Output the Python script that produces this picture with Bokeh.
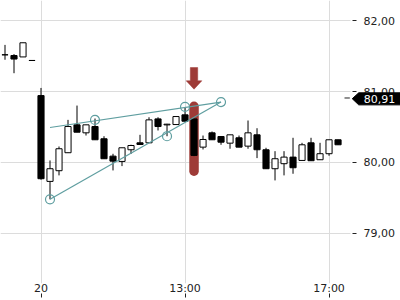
from bokeh.plotting import figure
from bokeh.models import Range1d, FixedTicker, Label, PolyAnnotation, ColumnDataSource
from bokeh.embed import file_html
from bokeh.resources import INLINE

# ---- data ----
idx   = [-4, -3, -2, -1, 0, 1, 2, 3, 4, 5, 6, 7, 8, 9, 10, 11, 12, 13, 14, 15, 16,
         17, 18, 19, 20, 21, 22, 23, 24, 25, 26, 27, 28, 29, 30, 31, 32, 33]
opens = [81.52, 81.51, 81.49, 81.44, 80.944, 79.732, 79.883, 80.137, 80.531, 80.418,
         80.507, 80.334, 80.089, 80.014, 80.179, 80.277, 80.277, 80.615, 80.530, 80.535,
         80.672, 80.615, 80.216, 80.418, 80.366, 80.272, 80.348, 80.230, 80.390, 80.179,
         79.911, 79.982, 80.075, 80.028, 80.277, 80.038, 80.123, 80.320]
highs = [81.66, 81.53, 81.69, 81.44, 81.052, 80.028, 80.225, 80.601, 80.803, 80.531,
         80.620, 80.370, 80.122, 80.207, 80.250, 80.390, 80.638, 80.638, 80.545, 80.648,
         80.775, 80.615, 80.380, 80.437, 80.366, 80.390, 80.380, 80.592, 80.483, 80.207,
         80.159, 80.159, 80.348, 80.277, 80.348, 80.277, 80.320, 80.320]
lows  = [81.45, 81.26, 81.49, 81.44, 79.756, 79.479, 79.817, 80.137, 80.427, 80.380,
         80.320, 80.052, 79.887, 79.948, 80.120, 80.253, 80.277, 80.451, 80.370, 80.535,
         80.582, 80.089, 80.183, 80.320, 80.249, 80.193, 80.216, 80.193, 80.061, 79.911,
         79.746, 79.817, 79.840, 80.028, 80.024, 80.038, 80.094, 80.249]
closes = [81.52, 81.46, 81.69, 81.44, 79.770, 79.911, 80.193, 80.507, 80.427, 80.531,
          80.320, 80.052, 80.018, 80.207, 80.239, 80.253, 80.601, 80.507, 80.540, 80.648,
          80.582, 80.099, 80.324, 80.320, 80.286, 80.390, 80.216, 80.418, 80.179, 79.911,
          80.052, 80.075, 79.925, 80.249, 80.024, 80.123, 80.320, 80.249]

x_ticks = [0, 16, 32]
x_tick_labels = ["20", "13:00", "17:00"]
y_ticks = [79, 80, 81, 82]
y_tick_labels = ["79,00", "80,00", "81,00", "82,00"]

line_a_x = [1, 20]
line_a_y = [80.493, 80.853]
line_b_x = [1, 20]
line_b_y = [79.479, 80.853]
circle_x = [1, 6, 14, 16, 20]
circle_y = [79.479, 80.600, 80.370, 80.785, 80.853]

signal_index = 17
signal_top = 80.793
signal_bottom = 79.877
arrow_top = 81.340
arrow_neck = 81.153
arrow_tip = 81.034

last_price = 80.91
last_price_text = "80,91"

# ---- styling ----
TEAL = "#5f9ea0"
RED = "#9e3b37"
TEXT = "#222222"
GRID = "#dcdcdc"
FONT = "DejaVu Sans"
PLOT_RIGHT = 34.39   # data x where the chart area ends (axis column to the right)

p = figure(width=400, height=300, output_backend="svg", toolbar_location=None,
           x_range=Range1d(-4.5, 39.94), y_range=Range1d(78.290, 82.287),
           y_axis_location="right", min_border_left=0, min_border_top=0,
           min_border_right=0, min_border_bottom=17)
p.outline_line_color = None
p.background_fill_color = "white"
p.border_fill_color = "white"

# axes
p.xaxis.ticker = FixedTicker(ticks=x_ticks)
p.xaxis.major_label_overrides = {t: l for t, l in zip(x_ticks, x_tick_labels)}
p.yaxis.ticker = FixedTicker(ticks=y_ticks)
p.yaxis.major_label_overrides = {t: l for t, l in zip(y_ticks, y_tick_labels)}
for ax in (p.xaxis, p.yaxis):
    ax.axis_line_color = None
    ax.minor_tick_line_color = None
    ax.major_tick_line_color = TEXT
    ax.major_label_text_font = FONT
    ax.major_label_text_font_size = "11px"
    ax.major_label_text_color = TEXT
p.xaxis.major_tick_in = -10
p.xaxis.major_tick_out = 14
p.xaxis.major_label_standoff = -16
p.yaxis.major_tick_in = 48
p.yaxis.major_tick_out = -44
p.yaxis.major_label_standoff = -37

p.xgrid.ticker = FixedTicker(ticks=x_ticks)
p.ygrid.ticker = FixedTicker(ticks=y_ticks)
p.ygrid.cross_bounds = (-4.5, PLOT_RIGHT)
p.grid.grid_line_color = GRID
p.grid.grid_line_width = 1

# signal highlight
p.segment(x0=[signal_index], y0=[signal_top], x1=[signal_index], y1=[signal_bottom],
          line_color=RED, line_width=9.5, line_cap="round")

# candles
up = [c >= o for o, c in zip(opens, closes)]
src = ColumnDataSource(dict(
    x=idx, high=highs, low=lows,
    top=[max(o, c) for o, c in zip(opens, closes)],
    bottom=[min(o, c) for o, c in zip(opens, closes)],
    fill=["white" if u else "black" for u in up],
))
p.segment(x0="x", y0="low", x1="x", y1="high", source=src, line_color="black", line_width=1)
p.vbar(x="x", top="top", bottom="bottom", width=0.68, source=src,
       fill_color="fill", line_color="black", line_width=1)

# trend lines
p.line(line_a_x, line_a_y, line_color=TEAL, line_width=1.2)
p.line(line_b_x, line_b_y, line_color=TEAL, line_width=1.2)
p.scatter(circle_x, circle_y, size=9, marker="circle", fill_color=None,
          line_color=TEAL, line_width=1.2)

# arrow above signal
sh, hw = 0.41, 0.87
p.patch([signal_index - sh, signal_index + sh, signal_index + sh, signal_index + hw,
         signal_index, signal_index - hw, signal_index - sh],
        [arrow_top, arrow_top, arrow_neck, arrow_neck, arrow_tip, arrow_neck, arrow_neck],
        fill_color=RED, line_color=RED, line_width=0.5)

# last price marker + tag
p.segment(x0=[33.72], y0=[last_price], x1=[34.31], y1=[last_price],
          line_color=TEXT, line_width=1)
mid = last_price - 0.010
top = mid + 0.083
bot = mid - 0.087
tag = PolyAnnotation(xs=[34.58, 35.30, 40.5, 40.5, 35.30],
                     ys=[mid, top, top, bot, bot],
                     fill_color="black", fill_alpha=1.0, line_color="black", line_alpha=1.0)
p.add_layout(tag)
p.add_layout(Label(x=35.87, y=mid, text=last_price_text, text_color="white",
                   text_font=FONT, text_font_size="11px", text_baseline="middle",
                   text_align="left"))

open("out.html", "w").write(file_html(p, INLINE))
